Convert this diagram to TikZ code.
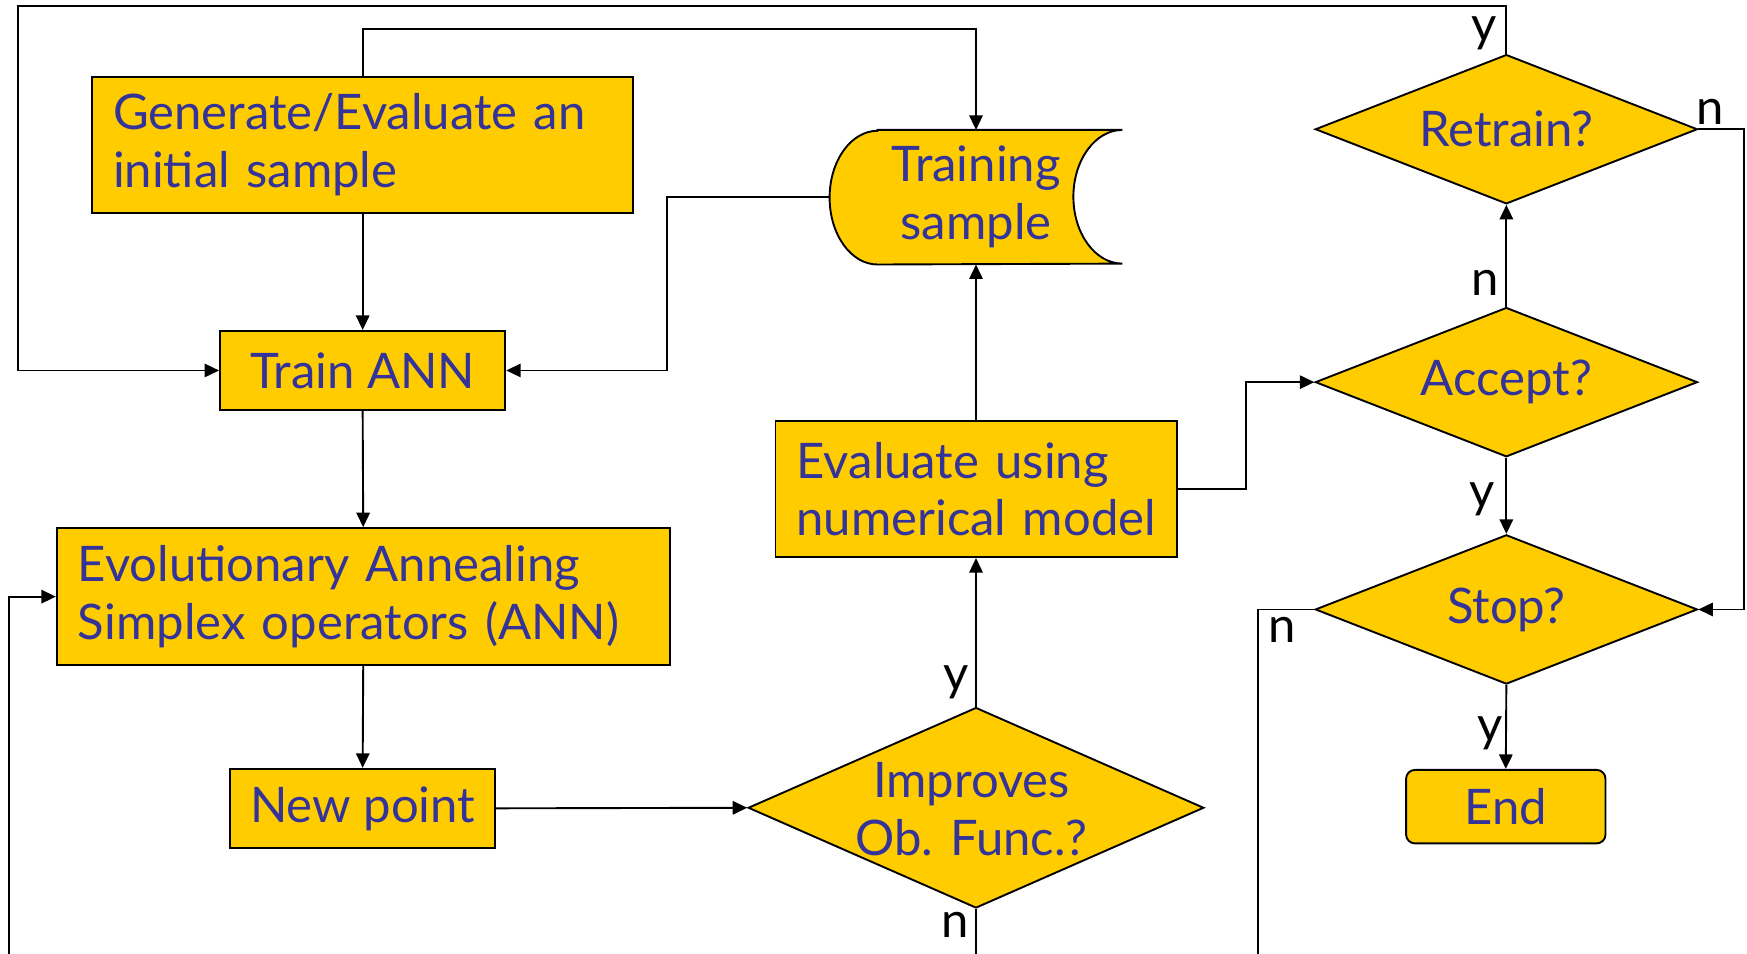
\documentclass[tikz,border=0pt]{standalone}
\usepackage{fontspec}
\setmainfont{Lato}
\usetikzlibrary{arrows.meta,shapes.geometric,calc,backgrounds}
\definecolor{boxfill}{HTML}{FFCC00}
\definecolor{boxtext}{HTML}{333399}
\hbadness=10000 \hfuzz=100pt
\begin{document}
\begin{tikzpicture}[x=0.5pt,y=-0.5pt,
  every node/.style={font=\fontsize{22}{26}\selectfont},
  box/.style={draw=black,line width=0.85pt,fill=boxfill,text=boxtext,inner sep=0pt},
  pbox/.style={box,rectangle,align=left,inner xsep=9.5pt,text width=#1},
  cbox/.style={box,rectangle,align=center},
  dia/.style={box,diamond,align=center},
  dtext/.style={text=boxtext,inner sep=0pt,align=center},
  arr/.style={-{Triangle[length=6.5pt,width=6pt]},line width=0.85pt},
  conn/.style={line width=0.85pt},
  lbl/.style={text=black,inner sep=0pt}
]
\useasboundingbox (0,0) rectangle (1568,856);

% nodes
\node[pbox=224pt, minimum height=61pt] (gen) at (325.5,130) {\mbox{Generate/Evaluate an}\\\mbox{initial sample}};
\node[cbox, minimum width=128pt, minimum height=35.5pt] (train) at (325.5,332.5) {Train ANN};
\node[pbox=256pt, minimum height=61.5pt] (evo) at (326,535.5) {\mbox{Evolutionary Annealing}\\\mbox{Simplex operators (ANN)}};
\node[cbox, minimum width=119pt, minimum height=35.5pt] (np) at (325.5,725.5) {New point};
\node[pbox=161pt, minimum height=61pt] (eval) at (876,439) {\mbox{Evaluate using}\\\mbox{numerical model}};
\node[inner sep=0pt, minimum width=131pt, minimum height=60pt, text=boxtext, align=center] (ts) at (876,177) {Training\\sample};
\begin{scope}[on background layer]
\draw[box] ([xshift=21.5pt]ts.north west) -- (ts.north east)
  arc[start angle=90,end angle=270,x radius=22pt,y radius=30pt]
  -- ([xshift=21.5pt]ts.south west)
  arc[start angle=270,end angle=90,x radius=21.5pt,y radius=30pt] -- cycle;
\end{scope}
\node[dia, minimum width=204.5pt, minimum height=90pt, aspect=2.27] (imp) at (876,725) {};
\node[dtext] (imptext) at (872,726) {Improves\\Ob. Func.?};
\node[dia, minimum width=171.5pt, minimum height=67pt, aspect=2.56] (ret) at (1352,116) {Retrain?};
\node[dia, minimum width=171.5pt, minimum height=67pt, aspect=2.56] (acc) at (1352,343) {Accept?};
\node[dia, minimum width=171.5pt, minimum height=67pt, aspect=2.56] (stop) at (1352,547) {Stop?};
\node[box, rounded corners=4pt, minimum width=89.5pt, minimum height=33pt] (end) at (1351.5,724) {End};

% helper coordinates
\coordinate (tl) at (16,5);
\coordinate (c2) at (876,26);
\coordinate (c3) at (599,177);
\coordinate (bl) at (8,856);
\coordinate (bimp) at (876,856);
\coordinate (c6) at (1565,116);
\coordinate (bstop) at (1129,856);

% connectors
\draw[arr] (ret.north) |- (tl) |- (train.west);
\draw[arr] (gen.north) |- (c2) -- (ts.north);
\draw[arr] (gen.south) -- (train.north);
\draw[arr] (ts.west) -- (ts.west -| c3) |- (train.east);
\draw[arr] (train.south) -- (evo.north);
\draw[arr] (evo.south) -- (np.north);
\draw[arr] (np.east) -- (imp.west);
\draw[arr] (imp.north) -- (eval.south);
\draw[conn] (imp.south) -- (bimp);
\draw[arr] (bl) |- (evo.west);
\draw[arr] (eval.north) -- (ts.south);
\draw[arr] (eval.east) -| ($(eval.east)!0.5!(acc.west)$) |- (acc.west);
\draw[arr] (acc.north) -- (ret.south);
\draw[arr] (ret.east) -- (c6) |- (stop.east);
\draw[arr] (acc.south) -- (stop.north);
\draw[arr] (stop.south) -- (end.north);
\draw[conn] (stop.west) -| (bstop);

% labels
\node[lbl] (l1) at (1332,30) {y};
\node[lbl] (l2) at (1535,100) {n};
\node[lbl] (l3) at (1333,254) {n};
\node[lbl] (l4) at (1330,448) {y};
\node[lbl] (l5) at (1337,658) {y};
\node[lbl] (l6) at (1151,565) {n};
\node[lbl] (l7) at (858,612) {y};
\node[lbl] (l8) at (857,830) {n};
\end{tikzpicture}
\end{document}
